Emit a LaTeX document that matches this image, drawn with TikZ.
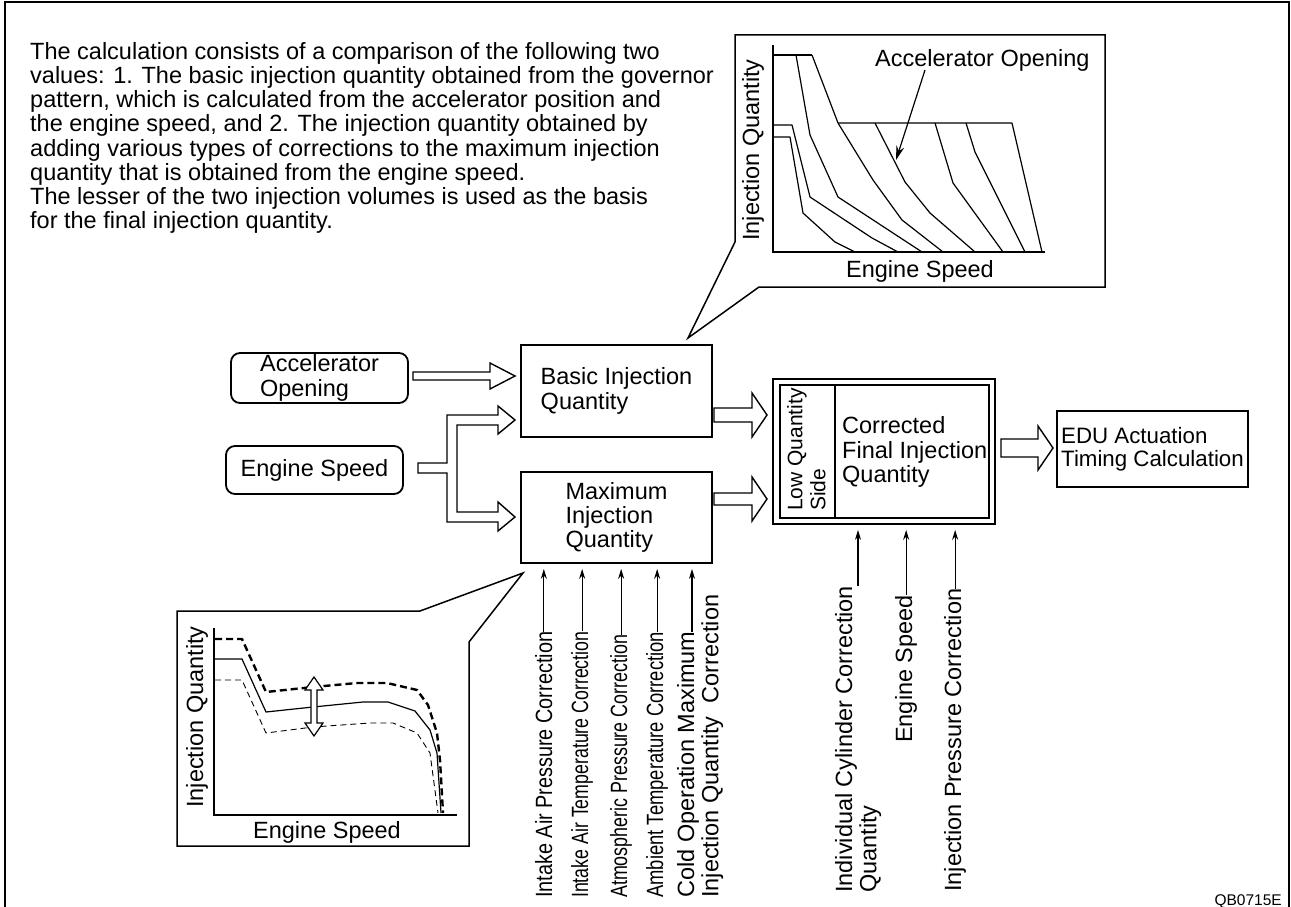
\documentclass[tikz,border=0pt]{standalone}
\usepackage{fontspec}
\usepackage{graphicx}
\setmainfont{Liberation Sans}
\usetikzlibrary{arrows.meta}
\newcommand\bigtxt{\fontsize{23.5}{24.2}\selectfont}
\begin{document}
\begin{tikzpicture}[x=1pt,y=-1pt,
  txt/.style={inner sep=0pt,font=\bigtxt},
  blk/.style={draw,line width=1.8pt,inner sep=0pt,font=\bigtxt,align=left},
  rblk/.style={blk,rounded corners=9pt},
  hollow/.style={draw,line width=1.4pt,fill=white,line join=miter},
  curve/.style={line width=1.2pt,line join=round},
  axis/.style={line width=2.6pt},
  inarr/.style={line width=1.2pt,-{Stealth[length=10pt,width=6pt]},shorten >=5pt},
  vlab/.style={inner sep=0pt,font=\bigtxt,rotate=90,align=left,anchor=north west}]
\useasboundingbox (0,0) rectangle (1291,907);
% frame
\draw[line width=2pt] (5,907) -- (5,2) -- (1289,2) -- (1289,907);

% paragraph
\node[txt,anchor=north west,align=left] (para) at (30,42) {The calculation consists of a comparison of the following two\\
values: 1. The basic injection quantity obtained from the governor\\
pattern, which is calculated from the accelerator position and\\
the engine speed, and 2. The injection quantity obtained by\\
adding various types of corrections to the maximum injection\\
quantity that is obtained from the engine speed.\\
The lesser of the two injection volumes is used as the basis\\
for the final injection quantity.};

% ---------- top callout graph ----------
\draw[line width=1.5pt,line join=miter] (735,242) -- (735,35) -- (1105,35) -- (1105,287) -- (759,287) -- (688,338) -- cycle;
\draw[axis] (773,45) -- (773,252) -- (1045,252);
\draw[curve] (773,137) -- (790,137) -- (803,213) -- (835,242) -- (855,252);
\draw[curve] (773,125) -- (792,125) -- (810,197) -- (872,238) -- (898,252);
\draw[curve] (773,55) -- (812,55);
\draw[curve] (796,55) -- (810,135) -- (838,197) -- (922,252);
\draw[curve] (812,55) -- (838,123) -- (873,180) -- (902,220) -- (943,252);
\draw[curve] (838,123) -- (1012,123) -- (1042,252);
\draw[curve] (875,123) -- (905,182) -- (930,213) -- (975,252);
\draw[curve] (935,123) -- (953,183) -- (1003,252);
\draw[curve] (966,123) -- (975,152) -- (1025,252);
\node[txt] (tgy) at (753,150) [rotate=90] {Injection Quantity};
\node[txt] (tgx) at (920,271) {Engine Speed};
\node[txt,anchor=south west] (tao) at (875,72) {Accelerator Opening};
\coordinate (taotip) at (896,160);
\draw[line width=1.2pt,-{Stealth[length=14pt,width=8pt]}] ([xshift=50pt,yshift=2pt]tao.south west) -- (taotip);

% ---------- bottom-left callout graph ----------
\draw[line width=1.5pt,line join=miter] (177,846) -- (177,611) -- (420,611) -- (523,573) -- (469,642) -- (469,846) -- cycle;
\draw[axis] (214,628) -- (214,815) -- (457,815);
\draw[line width=2.4pt,dash pattern=on 7pt off 4pt,line join=round] (215,639) -- (242,639) -- (266,692) -- (313,687) -- (357,683) -- (387,683) -- (417,690) -- (428,705) -- (437,733) -- (440,760) -- (443,813);
\draw[line width=1.2pt,line join=round] (215,659) -- (242,659) -- (266,712) -- (313,707) -- (363,702) -- (388,702) -- (415,711) -- (430,730) -- (437,753) -- (441,813);
\draw[line width=0.9pt,dash pattern=on 6pt off 4pt,line join=round] (215,680) -- (242,680) -- (266,733) -- (313,727) -- (370,723) -- (393,723) -- (417,733) -- (430,753) -- (438,813);
\draw[hollow,line width=1.2pt] (314,677) -- (323,690) -- (317,690) -- (317,723) -- (323,723) -- (314,736) -- (305,723) -- (311,723) -- (311,690) -- (305,690) -- cycle;
\node[txt] (bgy) at (197,717) [rotate=90] {Injection Quantity};
\node[txt] (bgx) at (327,832) {Engine Speed};

% ---------- blocks ----------
\node[rblk,minimum width=177pt,minimum height=50pt] (acc) at (319.5,378) {Accelerator\\Opening};
\node[rblk,minimum width=177pt,minimum height=48pt] (es) at (314.5,470) {Engine Speed};
\node[blk,minimum width=191pt,minimum height=92pt] (bq) at (616.5,391) {Basic Injection\\Quantity};
\node[blk,minimum width=191pt,minimum height=91pt] (mq) at (616.5,517.5) {Maximum\\Injection\\Quantity};
\node[blk,minimum width=222pt,minimum height=145pt] (cf) at (884,451.5) {};
\draw[line width=1.4pt] (780,385) rectangle (989,518);
\draw[line width=1.4pt] (835,385) -- (835,518);
\node[txt,anchor=west,align=left] (cft) at (842,452) {Corrected\\Final Injection\\Quantity};
\node[inner sep=0pt,font=\fontsize{21}{23}\selectfont,rotate=90,align=left,anchor=north west] (lqs) at (787,511) {Low Quantity\\Side};
\node[blk,minimum width=191pt,minimum height=76pt,font=\fontsize{22.3}{23.5}\selectfont] (edu) at (1152.5,449) {EDU Actuation\\Timing Calculation};

% ---------- hollow arrows ----------
\draw[hollow] (413,372) -- (490,372) -- (490,363) -- (515,376) -- (490,389) -- (490,380) -- (413,380) -- cycle;
\draw[hollow] (418,463) -- (447,463) -- (447,415) -- (498,415) -- (498,406) -- (515,420) -- (498,434) -- (498,425) -- (457,425) -- (457,512) -- (498,512) -- (498,502) -- (515,517) -- (498,531) -- (498,522) -- (447,522) -- (447,473) -- (418,473) -- cycle;
\draw[hollow] (714,408) -- (752,408) -- (752,393) -- (767,415) -- (752,437) -- (752,422) -- (714,422) -- cycle;
\draw[hollow] (714,493) -- (752,493) -- (752,477) -- (767,499) -- (752,521) -- (752,505) -- (714,505) -- cycle;
\draw[hollow] (1001,439) -- (1038,439) -- (1038,426) -- (1053,448) -- (1038,470) -- (1038,457) -- (1001,457) -- cycle;

% ---------- input labels ----------
\node[vlab] (l1) at (535,898) {\scalebox{0.845}[1]{Intake Air Pressure Correction}};
\node[vlab] (l2) at (571,898) {\scalebox{0.755}[1]{Intake Air Temperature Correction}};
\node[vlab] (l3) at (610,898) {\scalebox{0.76}[1]{Atmospheric Pressure Correction}};
\node[vlab] (l4) at (646,898) {\scalebox{0.783}[1]{Ambient Temperature Correction}};
\node[vlab] (l5) at (677,898) {Cold Operation Maximum\\Injection Quantity\ \ Correction};
\coordinate (l5end) at (692,632);
\draw[inarr] (l1.east) -- (l1.east |- mq.south);
\draw[inarr] (l2.east) -- (l2.east |- mq.south);
\draw[inarr] (l3.east) -- (l3.east |- mq.south);
\draw[inarr] (l4.east) -- (l4.east |- mq.south);
\draw[inarr] (l5end) -- (l5end |- mq.south);

\node[vlab] (r1) at (835,893) {Individual Cylinder Correction\\Quantity};
\node[vlab] (r2) at (895,743) {Engine Speed};
\node[vlab] (r3) at (944,892) {Injection Pressure Correction};
\coordinate (r1end) at (858,586);
\draw[inarr] (r1end) -- (r1end |- cf.south);
\draw[inarr] (r2.east) -- (r2.east |- cf.south);
\draw[inarr] (r3.east) -- (r3.east |- cf.south);

\node[inner sep=0pt,font=\fontsize{15.5}{16}\selectfont,anchor=base east] (code) at (1282,905) {QB0715E};
\end{tikzpicture}
\end{document}
